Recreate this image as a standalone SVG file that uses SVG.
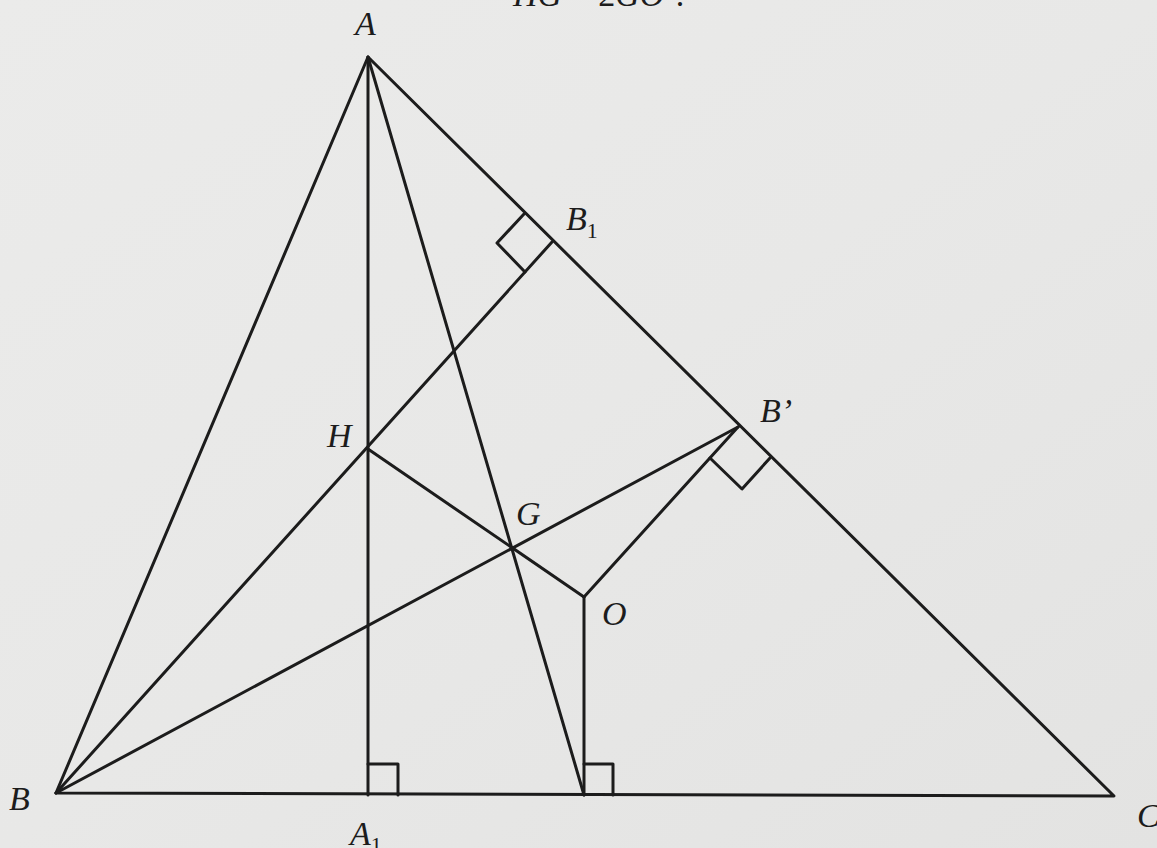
<svg xmlns="http://www.w3.org/2000/svg" width="1157" height="848" viewBox="0 0 1157 848">
  <defs>
    <linearGradient id="paper" x1="0" y1="0" x2="1" y2="1">
      <stop offset="0" stop-color="#ebebea"/>
      <stop offset="0.5" stop-color="#e8e8e7"/>
      <stop offset="1" stop-color="#e3e3e2"/>
    </linearGradient>
    <style>
      .ln { stroke: #1c1c1c; stroke-width: 3; fill: none; stroke-linecap: round; stroke-linejoin: round; }
      .lbl { font-family: "Liberation Serif", "Times New Roman", serif; font-style: italic; font-size: 34px; fill: #1c1c1c; }
      .sub { font-style: normal; font-size: 22px; }
      .up { font-style: normal; }
    </style>
  </defs>
  <rect width="1157" height="848" fill="url(#paper)"/>

  <text class="lbl" x="513" y="6">HG <tspan class="up">= 2</tspan>GO<tspan class="up">’.</tspan></text>

  <g id="connectors">
    <polygon class="ln" points="368,57 56,793 1114,796"/>
    <line class="ln" x1="368" y1="57" x2="368" y2="795"/>
    <line class="ln" x1="368" y1="57" x2="584" y2="795"/>
    <line class="ln" x1="56" y1="793" x2="552" y2="242"/>
    <line class="ln" x1="56" y1="793" x2="738" y2="427"/>
    <line class="ln" x1="368" y1="449" x2="584" y2="597"/>
    <line class="ln" x1="584" y1="597" x2="738" y2="427"/>
    <line class="ln" x1="584" y1="597" x2="584" y2="795"/>
    <polyline class="ln" points="524,214 497,243 525,272"/>
    <polyline class="ln" points="770,458 742,489 710,458"/>
    <polyline class="ln" points="368,764 398,764 398,795"/>
    <polyline class="ln" points="584,764 613,764 613,795"/>
  </g>

  <g id="node-A"><text class="lbl" x="355" y="35">A</text></g>
  <g id="node-B"><text class="lbl" x="9" y="810">B</text></g>
  <g id="node-C"><text class="lbl" x="1137" y="827">C</text></g>
  <g id="node-A1"><text class="lbl" x="350" y="845">A<tspan class="sub" dy="7">1</tspan></text></g>
  <g id="node-B1"><text class="lbl" x="566" y="230">B<tspan class="sub" dy="8">1</tspan></text></g>
  <g id="node-Bp"><text class="lbl" x="760" y="422">B’</text></g>
  <g id="node-H"><text class="lbl" x="327" y="447">H</text></g>
  <g id="node-G"><text class="lbl" x="516" y="525">G</text></g>
  <g id="node-O"><text class="lbl" x="602" y="625">O</text></g>
</svg>
